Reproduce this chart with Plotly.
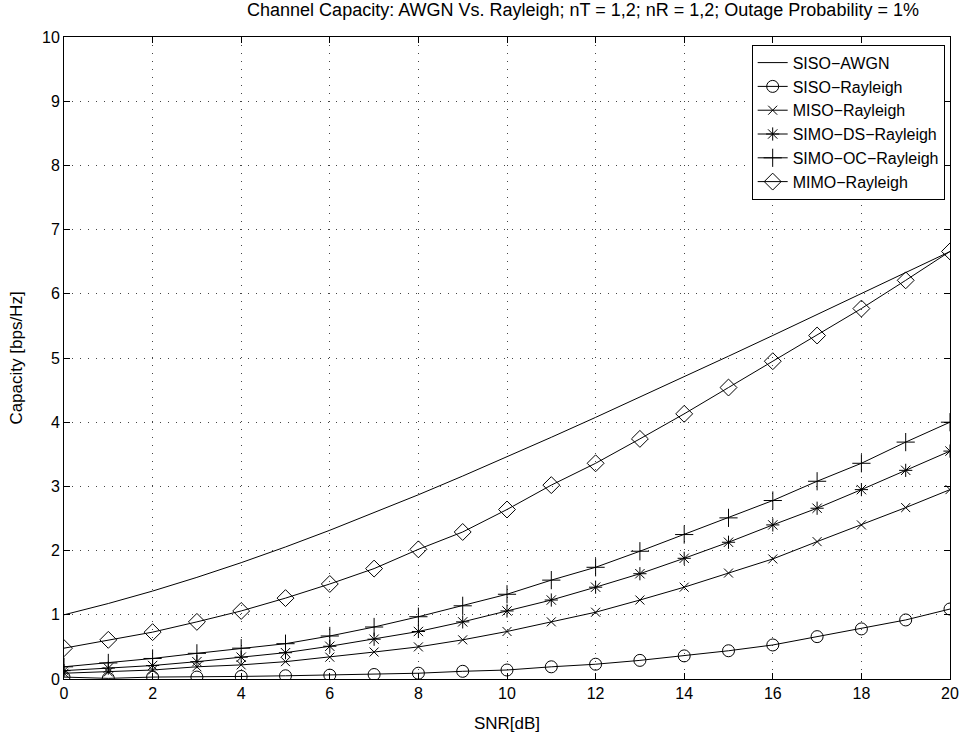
import plotly.graph_objects as go

snr = list(range(0, 21))

siso_awgn = [1.000, 1.176, 1.370, 1.583, 1.812, 2.057, 2.317, 2.588, 2.870, 3.161, 3.459,
             3.765, 4.075, 4.389, 4.707, 5.028, 5.351, 5.676, 6.002, 6.330, 6.658]
siso_rayleigh = [0.03, 0.01, 0.03, 0.03, 0.04, 0.05, 0.06, 0.07, 0.09, 0.12, 0.14,
                 0.19, 0.23, 0.29, 0.36, 0.44, 0.53, 0.66, 0.78, 0.92, 1.09]
miso_rayleigh = [0.09, 0.11, 0.14, 0.19, 0.22, 0.27, 0.34, 0.42, 0.50, 0.61, 0.74,
                 0.89, 1.04, 1.23, 1.43, 1.65, 1.87, 2.14, 2.40, 2.67, 2.95]
simo_ds = [0.13, 0.17, 0.21, 0.27, 0.34, 0.41, 0.51, 0.62, 0.74, 0.89, 1.06,
           1.23, 1.43, 1.64, 1.88, 2.13, 2.40, 2.66, 2.95, 3.25, 3.55]
simo_oc = [0.19, 0.25, 0.32, 0.40, 0.48, 0.55, 0.67, 0.81, 0.97, 1.14, 1.32,
           1.54, 1.74, 1.99, 2.25, 2.51, 2.78, 3.08, 3.36, 3.69, 4.00]
mimo = [0.48, 0.61, 0.73, 0.89, 1.06, 1.26, 1.48, 1.72, 2.02, 2.29, 2.64,
        3.02, 3.36, 3.74, 4.13, 4.54, 4.95, 5.35, 5.77, 6.21, 6.66]

series = [
    ("SISO\u2212AWGN", siso_awgn, None, 0),
    ("SISO\u2212Rayleigh", siso_rayleigh, "circle-open", 12),
    ("MISO\u2212Rayleigh", miso_rayleigh, "x-thin-open", 9),
    ("SIMO\u2212DS\u2212Rayleigh", simo_ds, "asterisk-open", 11),
    ("SIMO\u2212OC\u2212Rayleigh", simo_oc, "cross-thin-open", 13),
    ("MIMO\u2212Rayleigh", mimo, "diamond-open", 13),
]

fig = go.Figure()
for name, ys, sym, size in series:
    if sym is None:
        fig.add_trace(go.Scatter(x=snr, y=ys, name=name, mode="lines",
                                 line=dict(color="black", width=1)))
    else:
        fig.add_trace(go.Scatter(x=snr, y=ys, name=name, mode="lines+markers",
                                 line=dict(color="black", width=1),
                                 marker=dict(symbol=sym, size=size, color="black",
                                             line=dict(color="black", width=1))))

font_family = "Liberation Sans, Arial, Helvetica, sans-serif"
axis_common = dict(
    showline=True, linecolor="black", linewidth=1, mirror="ticks",
    ticks="inside", ticklen=6, tickcolor="black",
    showgrid=True, gridcolor="#444", gridwidth=1, griddash="1px,7px",
    zeroline=False, automargin=False, ticklabeloverflow="allow",
    tickfont=dict(size=16, color="black", family=font_family),
)

fig.update_layout(
    width=961, height=734,
    margin=dict(l=64, r=11, t=37, b=55),
    paper_bgcolor="white", plot_bgcolor="white",
    font=dict(family=font_family, color="black"),
    title=dict(text="Channel Capacity: AWGN Vs. Rayleigh; nT = 1,2; nR = 1,2; Outage Probability = 1%",
               x=583 / 961, xanchor="center", xref="container",
               y=1.0, yanchor="top", yref="container", pad=dict(t=3),
               font=dict(size=18, color="black")),
    xaxis=dict(range=[0, 20], tickvals=list(range(0, 21, 2)),
               title=dict(text="SNR[dB]", font=dict(size=17)), **axis_common),
    yaxis=dict(range=[0, 10], tickvals=list(range(0, 11)),
               title=dict(text="Capacity [bps/Hz]", font=dict(size=17)), **axis_common),
    legend=dict(x=0.994, y=0.988, xanchor="right", yanchor="top",
                bgcolor="white", bordercolor="black", borderwidth=1,
                font=dict(size=16, color="black"), tracegroupgap=0,
                itemwidth=30),
    showlegend=True,
)

# remove the default 8px page margin so the figure fills the window exactly
fig.write_html("out.html",
               config={"displayModeBar": False},
               post_script="document.body.style.margin='0';document.body.style.overflow='hidden';")
